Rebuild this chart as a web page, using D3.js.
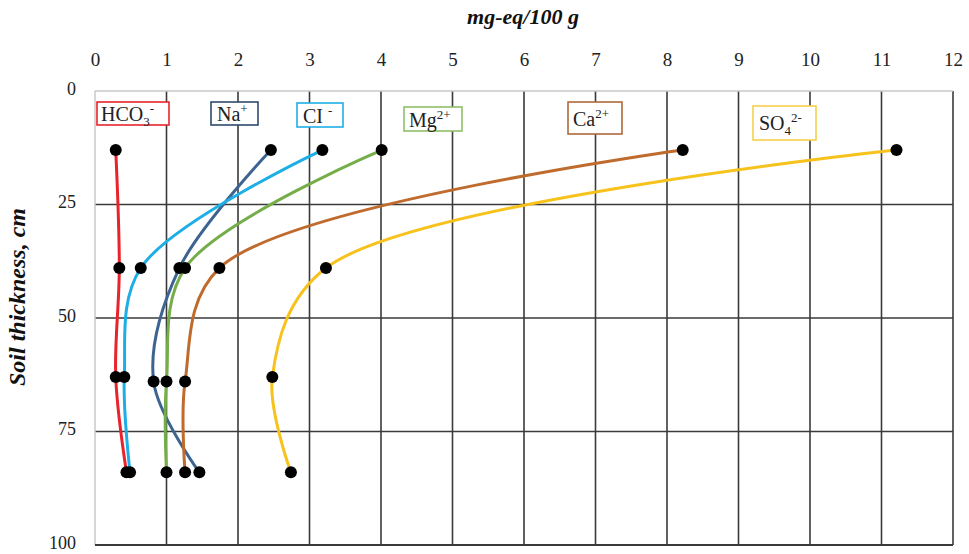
<!DOCTYPE html>
<html><head><meta charset="utf-8">
<script src="https://cdn.jsdelivr.net/npm/d3@7"></script>
<style>
body{margin:0;background:#fff;}
text{font-family:"Liberation Serif","Times New Roman",serif;}
</style></head>
<body><svg id="c" width="969" height="554"></svg>
<script>
// ---- data ----
const xTicks = [0,1,2,3,4,5,6,7,8,9,10,11,12];
const yTicks = [0,25,50,75,100];
const seriesNames = ["HCO3-","Na+","Cl-","Mg2+","Ca2+","SO42-"];
const hco3Depth = [13,39,63,84], hco3Vals = [0.29,0.34,0.29,0.44];
const naDepth   = [13,39,64,84], naVals   = [2.46,1.18,0.82,1.46];
const clDepth   = [13,39,63,84], clVals   = [3.18,0.64,0.41,0.49];
const mgDepth   = [13,39,64,84], mgVals   = [4.01,1.26,1.00,1.00];
const caDepth   = [13,39,64,84], caVals   = [8.22,1.74,1.26,1.26];
const so4Depth  = [13,39,63,84], so4Vals  = [11.21,3.23,2.48,2.74];

const seriesData = [
  {name:seriesNames[0], depth:hco3Depth, vals:hco3Vals, color:"#e8232b"},
  {name:seriesNames[1], depth:naDepth,   vals:naVals,   color:"#3d6491"},
  {name:seriesNames[2], depth:clDepth,   vals:clVals,   color:"#1eaee6"},
  {name:seriesNames[3], depth:mgDepth,   vals:mgVals,   color:"#74ad4a"},
  {name:seriesNames[4], depth:caDepth,   vals:caVals,   color:"#c06b2e"},
  {name:seriesNames[5], depth:so4Depth,  vals:so4Vals,  color:"#f7c21b"}
];
// legend layout (annotation boxes)
const legendLayout = [
  {parts:[["HCO",""],["3","sub"],["-","sup"]], box:[97,102,72,23], tx:101, ty:121, color:"#e8232b"},
  {parts:[["Na",""],["+","sup"]], box:[211,102,47,23], tx:217, ty:121, color:"#2e4a6b"},
  {parts:[["CI ",""],["-","sup"]], box:[297,103,46,24], tx:303, ty:123, color:"#1eaee6"},
  {parts:[["Mg",""],["2+","sup"]], box:[404,107,58,24], tx:409, ty:127, color:"#8fc06a"},
  {parts:[["Ca",""],["2+","sup"]], box:[568,102,54,32], tx:573, ty:126, color:"#b06a3a"},
  {parts:[["SO",""],["4","sub"],["2-","sup"]], box:[753,106,63,34], tx:759, ty:130, color:"#f5d04a"}
];

const svg = d3.select("#c");
const L=95, R=953, T=91, B=545;
const x = d3.scaleLinear().domain([0,12]).range([L,R]);
const y = d3.scaleLinear().domain([0,100]).range([T,B]);

// grid
const g = svg.append("g");
g.selectAll(".vg").data(xTicks.filter(d=>d>0)).enter().append("line")
  .attr("x1",d=>x(d)).attr("x2",d=>x(d)).attr("y1",T).attr("y2",B)
  .attr("stroke","#3a3a3a").attr("stroke-width",1.6);
g.selectAll(".hg").data(yTicks.filter(d=>d>0&&d<100)).enter().append("line")
  .attr("x1",L).attr("x2",R).attr("y1",d=>y(d)).attr("y2",d=>y(d))
  .attr("stroke","#3a3a3a").attr("stroke-width",1.6);
// borders
g.append("line").attr("x1",L).attr("x2",R).attr("y1",T).attr("y2",T).attr("stroke","#c8c8c8").attr("stroke-width",1.5);
g.append("line").attr("x1",L).attr("x2",L).attr("y1",T).attr("y2",B).attr("stroke","#c8c8c8").attr("stroke-width",1.5);
g.append("line").attr("x1",L).attr("x2",R).attr("y1",B).attr("y2",B).attr("stroke","#3a3a3a").attr("stroke-width",1.8);

// axes labels
const xAxis = d3.axisTop(x).tickValues(xTicks).tickSize(0).tickPadding(0);
const ax = svg.append("g").attr("transform",`translate(0,${T-25})`).call(xAxis);
ax.select(".domain").remove();
ax.selectAll("text").attr("font-size",19).attr("fill","#222").attr("font-family","Liberation Serif");
const yAxis = d3.axisLeft(y).tickValues(yTicks).tickSize(0).tickPadding(0);
const ay = svg.append("g").attr("transform",`translate(${L-19},-2)`).call(yAxis);
ay.select(".domain").remove();
ay.selectAll("text").attr("font-size",18).attr("dy","0.3em").attr("fill","#222").attr("font-family","Liberation Serif");

// titles
svg.append("text").attr("x",523).attr("y",24).attr("text-anchor","middle")
  .attr("font-size",22).attr("font-weight","bold").attr("font-style","italic").attr("fill","#111")
  .text("mg-eq/100 g");
svg.append("text").attr("transform","translate(25,297) rotate(-90)").attr("text-anchor","middle")
  .attr("font-size",24).attr("font-weight","bold").attr("font-style","italic").attr("fill","#111")
  .text("Soil thickness, cm");

// lines
const line = d3.line().x(d=>x(d[0])).y(d=>y(d[1])).curve(d3.curveCatmullRom.alpha(0.5));
seriesData.forEach(s=>{
  const pts = s.vals.map((v,i)=>[v,s.depth[i]]);
  svg.append("path").datum(pts).attr("d",line).attr("fill","none")
    .attr("stroke",s.color).attr("stroke-width",3);
});
seriesData.forEach(s=>{
  const pts = s.vals.map((v,i)=>[v,s.depth[i]]);
  svg.selectAll(null).data(pts).enter().append("circle")
    .attr("cx",d=>x(d[0])).attr("cy",d=>y(d[1])).attr("r",6).attr("fill","#000");
});

// legend boxes
legendLayout.forEach(l=>{
  svg.append("rect").attr("x",l.box[0]).attr("y",l.box[1]).attr("width",l.box[2]).attr("height",l.box[3])
    .attr("fill","#fff").attr("stroke",l.color).attr("stroke-width",1.6);
  const t = svg.append("text").attr("x",l.tx).attr("y",l.ty).attr("font-size",20).attr("fill","#222");
  let cur=0;
  l.parts.forEach(p=>{
    const ts = t.append("tspan").text(p[0]);
    const target = p[1]==="sub"?5:(p[1]==="sup"?-8:0);
    if(p[1]) ts.attr("font-size",13);
    ts.attr("dy",target-cur);
    cur=target;
  });
});
</script></body></html>
